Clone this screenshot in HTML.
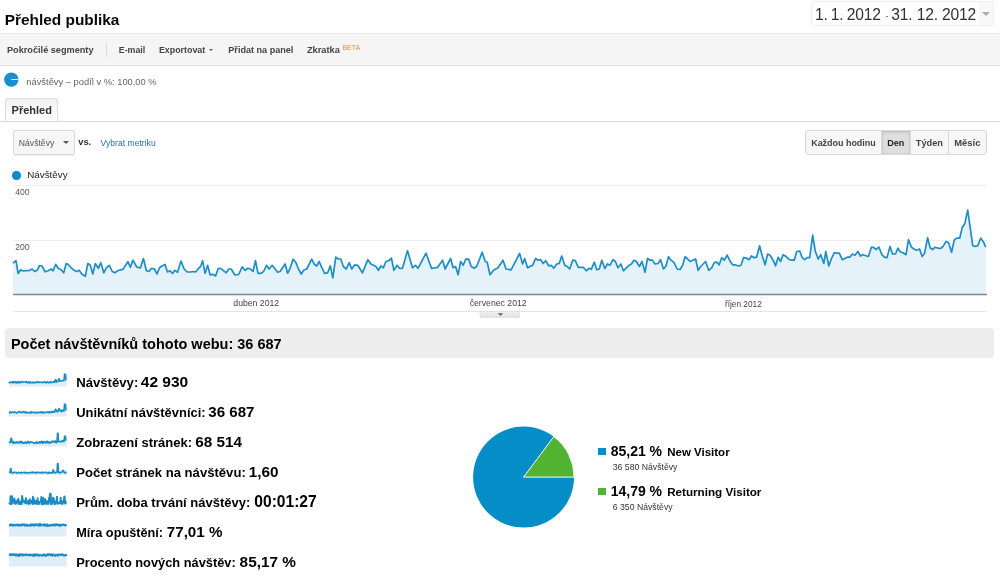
<!DOCTYPE html>
<html lang="cs"><head><meta charset="utf-8"><title>Přehled publika</title>
<style>
html,body{margin:0;padding:0;background:#fff;}
body{width:1000px;height:578px;position:relative;overflow:hidden;font-family:"Liberation Sans",sans-serif;color:#222;}
.abs{position:absolute;white-space:nowrap;}
.t{position:absolute;white-space:nowrap;line-height:20px;height:20px;}
#datebox{left:811px;top:1.300px;width:182.600px;height:24.300px;border:1px solid #efefef;border-radius:3px;background:linear-gradient(to right,#fff 0,#fff 167px,#f8f8f8 167px,#f8f8f8 100%);box-sizing:border-box;}
#datearrow{left:981.5px;top:12px;width:0;height:0;border-left:4.2px solid transparent;border-right:4.2px solid transparent;border-top:4.2px solid #aaa;}
#toolbar{left:0;top:33px;width:1000px;height:32.500px;background:#f5f5f5;border-top:1px solid #e6e6e6;border-bottom:1px solid #e3e3e3;box-sizing:border-box;}
#tbsep{left:106px;top:41.500px;width:1px;height:15.500px;background:#dcdcdc;}
#tab{left:4.600px;top:97.900px;width:53.400px;height:23.600px;border:1px solid #dcdcdc;border-bottom:none;border-radius:3px 3px 0 0;background:linear-gradient(#f1f1f1,#fff 85%);box-sizing:border-box;}
#tabline{left:0;top:120.500px;width:1000px;height:1px;background:#d9d9d9;}
#metricsel{left:12.500px;top:130px;width:62.400px;height:24.500px;border:1px solid #dadada;border-radius:2px;background:#f6f6f6;box-sizing:border-box;box-shadow:0 1px 1px rgba(0,0,0,.06);}
#metricarrow{left:63px;top:141px;width:0;height:0;border-left:3px solid transparent;border-right:3px solid transparent;border-top:3px solid #555;}
.btn{top:130px;height:24.600px;box-sizing:border-box;border:1px solid #d9d9d9;background:#f6f6f6;}
#legdot{left:12.400px;top:171px;width:8.600px;height:8.600px;border-radius:50%;background:#058dc7;}
#sechead{left:4.500px;top:328.400px;width:989.500px;height:29.500px;background:#ededed;border-radius:4px;}
.lsq{left:598.400px;width:7.300px;height:7.300px;}
svg{position:absolute;left:0;top:0;}
</style></head><body>
<div id="datebox" class="abs"></div>
<div id="datearrow" class="abs"></div>
<div id="toolbar" class="abs"></div>
<div id="tbsep" class="abs"></div>
<div class="abs" style="left:209px;top:48.800px;width:0;height:0;border-left:2.800px solid transparent;border-right:2.800px solid transparent;border-top:2.800px solid #555"></div>
<svg class="abs" style="left:4px;top:72px" width="15" height="15" viewBox="0 0 15 15"><circle cx="7.300" cy="7.600" r="7.200" fill="#1a8fd0"/><line x1="7.300" y1="7.500" x2="14.500" y2="7.500" stroke="#fff" stroke-width="1" opacity="0.85"/></svg>
<div id="tabline" class="abs"></div>
<div id="tab" class="abs"></div>
<div id="metricsel" class="abs"></div>
<div id="metricarrow" class="abs"></div>
<div class="abs btn" style="left:805.4px;width:77.0px;border-radius:3px 0 0 3px;"></div>
<div class="t" style="left:811.2px;top:132.90px;font-size:8.95px;font-weight:bold;color:#444;">Každou hodinu</div>
<div class="abs btn" style="left:881.4px;width:29.200000000000045px;background:#dedede;box-shadow:inset 0 1px 3px rgba(0,0,0,.18);"></div>
<div class="t" style="left:887.2px;top:132.88px;font-size:9.0px;font-weight:bold;color:#222;">Den</div>
<div class="abs btn" style="left:909.6px;width:39.799999999999955px;"></div>
<div class="t" style="left:915.8px;top:132.81px;font-size:9.2px;font-weight:bold;color:#444;">Týden</div>
<div class="abs btn" style="left:948.4px;width:39.0px;border-radius:0 3px 3px 0;"></div>
<div class="t" style="left:954.2px;top:132.73px;font-size:9.45px;font-weight:bold;color:#444;">Měsíc</div>

<div id="legdot" class="abs"></div>
<svg width="1000" height="578" viewBox="0 0 1000 578">
<defs><linearGradient id="hg" x1="0" y1="0" x2="0" y2="1"><stop offset="0" stop-color="#f1f1f1"/><stop offset="1" stop-color="#e2e2e2"/></linearGradient></defs>
<line x1="13" y1="185.500" x2="987" y2="185.500" stroke="#eeeeee" stroke-width="1"/>
<line x1="13" y1="240.500" x2="987" y2="240.500" stroke="#eeeeee" stroke-width="1"/>
<polygon points="13.0,294 13.0,263.2 16.0,260.7 18.1,273.5 20.6,269.8 22.6,271.0 29.6,270.3 32.1,269.0 34.6,271.5 37.1,270.3 39.6,265.5 42.1,266.0 45.1,271.8 48.1,270.8 51.2,269.0 53.2,270.8 55.7,264.3 58.2,268.3 60.7,269.5 63.7,272.8 66.2,263.5 68.2,264.5 71.2,267.8 74.2,270.3 76.7,271.5 79.2,270.3 81.7,274.0 85.3,276.3 87.8,263.5 90.3,265.3 92.8,274.0 95.3,263.5 98.3,268.3 100.8,262.7 103.8,272.8 106.3,267.8 109.3,265.3 112.3,271.5 114.8,272.8 117.9,270.8 120.4,269.8 122.9,269.3 127.9,261.7 130.4,267.3 132.9,260.2 136.7,267.0 140.4,267.8 143.4,258.5 146.4,270.8 148.9,271.5 151.5,268.3 154.5,269.0 157.0,274.0 159.5,267.8 162.0,266.0 165.0,264.5 167.5,272.0 170.0,270.8 172.5,273.3 175.0,270.3 177.5,272.3 181.0,261.0 184.1,269.0 187.1,272.0 190.6,272.0 193.1,271.5 195.6,272.0 198.6,268.3 200.6,266.5 202.6,260.7 205.1,273.3 207.6,265.3 210.1,274.8 213.1,274.3 215.6,276.0 218.2,268.5 220.7,268.3 223.2,270.3 226.2,272.8 228.7,269.0 231.2,269.0 234.7,274.8 238.7,274.5 242.2,266.8 245.0,270.3 248.0,268.3 250.5,269.0 253.0,271.5 255.5,260.7 258.0,273.3 261.0,273.3 263.6,271.5 266.6,265.3 269.1,269.0 272.1,265.3 274.6,268.3 277.6,272.3 280.1,271.5 285.1,264.0 287.6,273.3 290.1,268.3 293.1,259.2 295.7,262.2 298.2,268.3 301.2,274.0 304.2,269.8 306.7,269.0 311.7,259.2 314.2,264.0 316.7,266.0 319.2,261.5 321.7,267.3 324.7,273.3 327.7,272.8 330.3,265.8 332.8,277.8 335.8,257.2 338.3,259.0 340.8,259.0 343.3,266.5 346.3,269.0 349.3,262.7 351.8,269.0 354.8,264.8 357.8,265.3 362.4,272.8 367.9,259.7 370.9,264.0 375.9,266.5 378.4,270.3 380.9,266.0 383.4,267.8 385.9,261.5 388.9,260.7 391.4,258.2 393.9,270.3 397.0,265.3 399.5,268.3 402.5,268.3 407.5,250.7 412.5,267.8 415.5,265.3 418.0,268.3 426.0,253.2 431.6,268.5 437.6,267.3 442.6,260.2 445.1,269.0 450.6,258.5 453.1,267.8 455.6,266.5 458.1,274.8 460.6,261.5 463.2,265.3 465.7,259.2 468.7,259.0 471.2,266.5 474.2,268.3 476.7,266.5 482.2,252.2 485.2,261.5 487.2,262.2 490.0,274.8 493.5,270.3 498.0,267.8 503.0,260.2 506.0,269.0 511.1,269.8 519.6,253.5 522.6,264.0 524.6,258.5 527.6,267.8 532.6,265.3 535.6,258.5 538.1,260.2 540.7,259.7 543.2,263.5 545.7,260.7 548.7,265.8 551.2,265.3 553.7,268.3 556.7,264.0 559.2,263.5 561.7,256.0 564.7,265.3 567.2,266.5 569.7,269.0 572.7,260.2 575.3,260.7 578.3,267.3 583.3,267.3 586.3,270.8 588.8,268.3 591.3,269.3 594.3,262.2 596.8,269.8 599.3,269.0 601.8,260.2 604.8,268.5 607.4,264.0 609.9,265.3 612.9,259.7 615.4,261.5 617.9,267.8 620.9,264.0 623.4,270.8 628.9,265.3 631.4,264.0 633.9,260.2 636.4,261.5 639.4,266.5 642.0,261.5 645.0,272.3 647.5,258.5 650.0,260.2 652.5,260.2 655.0,264.0 658.0,263.5 660.5,259.7 663.5,269.0 666.0,266.0 668.5,256.7 671.0,260.2 674.1,262.7 677.1,269.0 680.1,269.5 682.6,265.3 685.1,256.7 687.6,259.0 690.1,261.5 695.6,259.0 698.1,270.3 700.6,266.5 705.6,261.5 708.7,270.3 711.7,267.8 714.2,262.7 716.7,262.2 719.2,264.8 721.7,257.7 724.2,260.2 727.2,255.2 730.2,261.5 732.7,264.8 735.0,264.8 738.5,266.0 741.0,265.3 743.5,257.7 746.5,258.2 749.0,259.7 751.5,256.0 754.1,257.7 756.6,257.2 759.6,245.9 762.1,255.2 765.1,264.8 767.6,254.0 770.1,255.2 773.1,260.2 775.6,265.8 778.1,257.2 780.6,261.5 783.1,254.7 786.2,256.5 788.7,259.2 791.2,260.2 794.2,260.2 796.7,251.5 799.7,251.0 802.2,257.7 804.7,259.7 807.2,257.7 809.7,257.7 812.7,235.2 815.2,251.0 818.2,259.0 820.8,254.7 823.8,263.5 825.8,251.5 828.8,266.0 831.3,259.0 834.3,252.7 836.8,253.2 839.3,253.2 842.3,259.7 844.8,258.5 847.3,257.2 849.8,257.2 852.4,254.0 854.9,255.2 857.9,251.5 860.4,256.0 862.9,254.7 865.9,255.7 868.4,256.5 871.4,247.2 873.9,247.7 876.4,249.5 878.9,247.0 881.9,254.7 884.4,257.2 887.0,257.7 890.0,246.4 892.5,254.0 895.5,254.0 898.0,248.2 900.5,252.0 903.0,252.7 906.0,254.7 908.5,239.7 911.5,247.2 914.0,249.0 916.5,250.2 919.6,249.0 922.1,256.5 924.6,253.2 927.6,237.7 930.1,247.7 932.6,249.5 935.1,247.2 938.1,248.2 940.6,248.5 943.1,246.4 946.1,241.4 948.6,242.7 951.6,252.2 954.2,240.2 956.7,238.2 959.7,238.2 962.2,227.6 964.7,223.9 967.7,210.1 970.2,227.6 972.7,245.7 975.2,246.4 977.7,245.7 980.7,238.2 983.2,241.4 985.8,247.2 985.8,294" fill="#e6f2fa"/>
<polyline points="13.0,263.2 16.0,260.7 18.1,273.5 20.6,269.8 22.6,271.0 29.6,270.3 32.1,269.0 34.6,271.5 37.1,270.3 39.6,265.5 42.1,266.0 45.1,271.8 48.1,270.8 51.2,269.0 53.2,270.8 55.7,264.3 58.2,268.3 60.7,269.5 63.7,272.8 66.2,263.5 68.2,264.5 71.2,267.8 74.2,270.3 76.7,271.5 79.2,270.3 81.7,274.0 85.3,276.3 87.8,263.5 90.3,265.3 92.8,274.0 95.3,263.5 98.3,268.3 100.8,262.7 103.8,272.8 106.3,267.8 109.3,265.3 112.3,271.5 114.8,272.8 117.9,270.8 120.4,269.8 122.9,269.3 127.9,261.7 130.4,267.3 132.9,260.2 136.7,267.0 140.4,267.8 143.4,258.5 146.4,270.8 148.9,271.5 151.5,268.3 154.5,269.0 157.0,274.0 159.5,267.8 162.0,266.0 165.0,264.5 167.5,272.0 170.0,270.8 172.5,273.3 175.0,270.3 177.5,272.3 181.0,261.0 184.1,269.0 187.1,272.0 190.6,272.0 193.1,271.5 195.6,272.0 198.6,268.3 200.6,266.5 202.6,260.7 205.1,273.3 207.6,265.3 210.1,274.8 213.1,274.3 215.6,276.0 218.2,268.5 220.7,268.3 223.2,270.3 226.2,272.8 228.7,269.0 231.2,269.0 234.7,274.8 238.7,274.5 242.2,266.8 245.0,270.3 248.0,268.3 250.5,269.0 253.0,271.5 255.5,260.7 258.0,273.3 261.0,273.3 263.6,271.5 266.6,265.3 269.1,269.0 272.1,265.3 274.6,268.3 277.6,272.3 280.1,271.5 285.1,264.0 287.6,273.3 290.1,268.3 293.1,259.2 295.7,262.2 298.2,268.3 301.2,274.0 304.2,269.8 306.7,269.0 311.7,259.2 314.2,264.0 316.7,266.0 319.2,261.5 321.7,267.3 324.7,273.3 327.7,272.8 330.3,265.8 332.8,277.8 335.8,257.2 338.3,259.0 340.8,259.0 343.3,266.5 346.3,269.0 349.3,262.7 351.8,269.0 354.8,264.8 357.8,265.3 362.4,272.8 367.9,259.7 370.9,264.0 375.9,266.5 378.4,270.3 380.9,266.0 383.4,267.8 385.9,261.5 388.9,260.7 391.4,258.2 393.9,270.3 397.0,265.3 399.5,268.3 402.5,268.3 407.5,250.7 412.5,267.8 415.5,265.3 418.0,268.3 426.0,253.2 431.6,268.5 437.6,267.3 442.6,260.2 445.1,269.0 450.6,258.5 453.1,267.8 455.6,266.5 458.1,274.8 460.6,261.5 463.2,265.3 465.7,259.2 468.7,259.0 471.2,266.5 474.2,268.3 476.7,266.5 482.2,252.2 485.2,261.5 487.2,262.2 490.0,274.8 493.5,270.3 498.0,267.8 503.0,260.2 506.0,269.0 511.1,269.8 519.6,253.5 522.6,264.0 524.6,258.5 527.6,267.8 532.6,265.3 535.6,258.5 538.1,260.2 540.7,259.7 543.2,263.5 545.7,260.7 548.7,265.8 551.2,265.3 553.7,268.3 556.7,264.0 559.2,263.5 561.7,256.0 564.7,265.3 567.2,266.5 569.7,269.0 572.7,260.2 575.3,260.7 578.3,267.3 583.3,267.3 586.3,270.8 588.8,268.3 591.3,269.3 594.3,262.2 596.8,269.8 599.3,269.0 601.8,260.2 604.8,268.5 607.4,264.0 609.9,265.3 612.9,259.7 615.4,261.5 617.9,267.8 620.9,264.0 623.4,270.8 628.9,265.3 631.4,264.0 633.9,260.2 636.4,261.5 639.4,266.5 642.0,261.5 645.0,272.3 647.5,258.5 650.0,260.2 652.5,260.2 655.0,264.0 658.0,263.5 660.5,259.7 663.5,269.0 666.0,266.0 668.5,256.7 671.0,260.2 674.1,262.7 677.1,269.0 680.1,269.5 682.6,265.3 685.1,256.7 687.6,259.0 690.1,261.5 695.6,259.0 698.1,270.3 700.6,266.5 705.6,261.5 708.7,270.3 711.7,267.8 714.2,262.7 716.7,262.2 719.2,264.8 721.7,257.7 724.2,260.2 727.2,255.2 730.2,261.5 732.7,264.8 735.0,264.8 738.5,266.0 741.0,265.3 743.5,257.7 746.5,258.2 749.0,259.7 751.5,256.0 754.1,257.7 756.6,257.2 759.6,245.9 762.1,255.2 765.1,264.8 767.6,254.0 770.1,255.2 773.1,260.2 775.6,265.8 778.1,257.2 780.6,261.5 783.1,254.7 786.2,256.5 788.7,259.2 791.2,260.2 794.2,260.2 796.7,251.5 799.7,251.0 802.2,257.7 804.7,259.7 807.2,257.7 809.7,257.7 812.7,235.2 815.2,251.0 818.2,259.0 820.8,254.7 823.8,263.5 825.8,251.5 828.8,266.0 831.3,259.0 834.3,252.7 836.8,253.2 839.3,253.2 842.3,259.7 844.8,258.5 847.3,257.2 849.8,257.2 852.4,254.0 854.9,255.2 857.9,251.5 860.4,256.0 862.9,254.7 865.9,255.7 868.4,256.5 871.4,247.2 873.9,247.7 876.4,249.5 878.9,247.0 881.9,254.7 884.4,257.2 887.0,257.7 890.0,246.4 892.5,254.0 895.5,254.0 898.0,248.2 900.5,252.0 903.0,252.7 906.0,254.7 908.5,239.7 911.5,247.2 914.0,249.0 916.5,250.2 919.6,249.0 922.1,256.5 924.6,253.2 927.6,237.7 930.1,247.7 932.6,249.5 935.1,247.2 938.1,248.2 940.6,248.5 943.1,246.4 946.1,241.4 948.6,242.7 951.6,252.2 954.2,240.2 956.7,238.2 959.7,238.2 962.2,227.6 964.7,223.9 967.7,210.1 970.2,227.6 972.7,245.7 975.2,246.4 977.7,245.7 980.7,238.2 983.2,241.4 985.8,247.2" fill="none" stroke="#1e8fc6" stroke-width="1.700" stroke-linejoin="round"/>
<line x1="13" y1="294.500" x2="987" y2="294.500" stroke="#7f898d" stroke-width="1.500"/>
<line x1="13" y1="311.500" x2="987" y2="311.500" stroke="#e4e4e4" stroke-width="1"/>
<path d="M480,311.500 H519.600 V316 Q519.600,317.500 518.100,317.500 H481.500 Q480,317.500 480,316 Z" fill="url(#hg)" stroke="#d8d8d8" stroke-width="0.600"/>
<path d="M497.800,313.200 h5.400 l-2.700,2.800 z" fill="#666"/>
<polygon points="9.0,386.5 9.0,381.8 9.5,382.8 10.0,382.7 10.5,382.0 11.0,382.3 11.5,382.2 12.0,382.5 12.5,382.7 13.0,381.7 13.5,381.6 14.0,382.8 14.5,382.2 15.0,382.7 15.5,381.6 16.0,382.2 16.5,382.6 17.0,381.9 17.5,382.9 18.0,382.9 18.5,381.6 19.0,381.6 19.5,382.4 20.0,382.9 20.5,382.1 21.0,381.9 21.5,382.2 22.0,381.6 22.5,381.9 23.0,382.2 23.5,382.3 24.0,381.9 24.5,381.9 25.0,381.9 25.5,382.2 26.0,382.0 26.5,381.6 27.0,382.8 27.5,382.4 28.0,382.5 28.5,381.9 29.0,383.0 29.5,382.8 30.0,381.8 30.5,382.1 31.0,382.6 31.5,382.6 32.0,382.9 32.5,382.2 33.0,382.8 33.5,382.5 34.0,382.0 34.5,382.4 35.0,382.8 35.5,382.8 36.0,382.3 36.5,382.4 37.0,381.6 37.5,381.9 38.0,382.7 38.5,382.2 39.0,381.8 39.5,382.4 40.0,382.6 40.5,382.5 41.0,382.1 41.5,382.2 42.0,382.3 42.5,382.7 43.0,382.3 43.5,382.2 44.0,382.3 44.5,381.6 45.0,381.7 45.5,382.6 46.0,382.9 46.5,382.4 47.0,382.1 47.5,381.8 48.0,382.2 48.5,382.9 49.0,382.6 49.5,382.2 50.0,382.6 50.5,381.7 51.0,382.1 51.5,382.7 52.0,382.1 52.5,381.9 53.0,381.6 53.5,381.9 54.0,382.5 54.5,381.1 55.0,382.1 55.5,379.6 56.0,379.7 56.5,381.9 57.0,382.0 57.5,381.5 58.0,381.5 58.5,379.2 59.0,378.7 59.5,379.7 60.0,381.2 60.5,380.7 61.0,381.0 61.5,380.9 62.0,380.7 62.5,380.6 63.0,380.7 63.5,380.8 64.0,380.7 64.5,374.3 65.0,374.3 65.5,374.3 66.0,379.7 66.5,380.2 66.5,386.5" fill="#deedf7"/><polyline points="9.0,381.8 9.5,382.8 10.0,382.7 10.5,382.0 11.0,382.3 11.5,382.2 12.0,382.5 12.5,382.7 13.0,381.7 13.5,381.6 14.0,382.8 14.5,382.2 15.0,382.7 15.5,381.6 16.0,382.2 16.5,382.6 17.0,381.9 17.5,382.9 18.0,382.9 18.5,381.6 19.0,381.6 19.5,382.4 20.0,382.9 20.5,382.1 21.0,381.9 21.5,382.2 22.0,381.6 22.5,381.9 23.0,382.2 23.5,382.3 24.0,381.9 24.5,381.9 25.0,381.9 25.5,382.2 26.0,382.0 26.5,381.6 27.0,382.8 27.5,382.4 28.0,382.5 28.5,381.9 29.0,383.0 29.5,382.8 30.0,381.8 30.5,382.1 31.0,382.6 31.5,382.6 32.0,382.9 32.5,382.2 33.0,382.8 33.5,382.5 34.0,382.0 34.5,382.4 35.0,382.8 35.5,382.8 36.0,382.3 36.5,382.4 37.0,381.6 37.5,381.9 38.0,382.7 38.5,382.2 39.0,381.8 39.5,382.4 40.0,382.6 40.5,382.5 41.0,382.1 41.5,382.2 42.0,382.3 42.5,382.7 43.0,382.3 43.5,382.2 44.0,382.3 44.5,381.6 45.0,381.7 45.5,382.6 46.0,382.9 46.5,382.4 47.0,382.1 47.5,381.8 48.0,382.2 48.5,382.9 49.0,382.6 49.5,382.2 50.0,382.6 50.5,381.7 51.0,382.1 51.5,382.7 52.0,382.1 52.5,381.9 53.0,381.6 53.5,381.9 54.0,382.5 54.5,381.1 55.0,382.1 55.5,379.6 56.0,379.7 56.5,381.9 57.0,382.0 57.5,381.5 58.0,381.5 58.5,379.2 59.0,378.7 59.5,379.7 60.0,381.2 60.5,380.7 61.0,381.0 61.5,380.9 62.0,380.7 62.5,380.6 63.0,380.7 63.5,380.8 64.0,380.7 64.5,374.3 65.0,374.3 65.5,374.3 66.0,379.7 66.5,380.2" fill="none" stroke="#1a8bc3" stroke-width="1.55" stroke-linejoin="round"/>
<polygon points="9.0,416.5 9.0,412.9 9.5,412.9 10.0,411.7 10.5,411.7 11.0,412.8 11.5,412.6 12.0,412.5 12.5,412.0 13.0,412.4 13.5,412.4 14.0,412.4 14.5,411.8 15.0,412.2 15.5,412.2 16.0,412.6 16.5,413.0 17.0,412.9 17.5,412.4 18.0,412.2 18.5,412.0 19.0,411.7 19.5,411.6 20.0,412.3 20.5,412.0 21.0,412.1 21.5,412.8 22.0,412.3 22.5,412.4 23.0,411.9 23.5,411.6 24.0,412.1 24.5,411.8 25.0,412.3 25.5,413.0 26.0,412.5 26.5,411.9 27.0,412.9 27.5,412.7 28.0,412.6 28.5,412.9 29.0,412.7 29.5,412.7 30.0,412.1 30.5,413.0 31.0,412.9 31.5,411.8 32.0,412.7 32.5,412.6 33.0,412.2 33.5,412.3 34.0,412.3 34.5,412.9 35.0,412.3 35.5,412.8 36.0,412.1 36.5,412.8 37.0,412.9 37.5,412.2 38.0,412.4 38.5,412.9 39.0,412.6 39.5,412.3 40.0,411.9 40.5,412.1 41.0,412.6 41.5,411.8 42.0,412.9 42.5,412.0 43.0,412.9 43.5,412.0 44.0,412.9 44.5,412.6 45.0,412.3 45.5,412.3 46.0,412.5 46.5,412.4 47.0,412.0 47.5,411.8 48.0,412.2 48.5,412.8 49.0,412.3 49.5,411.6 50.0,412.6 50.5,412.4 51.0,412.6 51.5,411.6 52.0,412.3 52.5,411.3 53.0,412.1 53.5,411.6 54.0,411.5 54.5,412.3 55.0,411.2 55.5,409.2 56.0,409.6 56.5,411.2 57.0,411.1 57.5,412.0 58.0,411.3 58.5,409.7 59.0,408.6 59.5,409.0 60.0,410.7 60.5,411.3 61.0,410.4 61.5,411.6 62.0,410.2 62.5,411.1 63.0,410.0 63.5,410.3 64.0,411.0 64.5,404.3 65.0,404.3 65.5,404.3 66.0,410.0 66.5,409.4 66.5,416.5" fill="#deedf7"/><polyline points="9.0,412.9 9.5,412.9 10.0,411.7 10.5,411.7 11.0,412.8 11.5,412.6 12.0,412.5 12.5,412.0 13.0,412.4 13.5,412.4 14.0,412.4 14.5,411.8 15.0,412.2 15.5,412.2 16.0,412.6 16.5,413.0 17.0,412.9 17.5,412.4 18.0,412.2 18.5,412.0 19.0,411.7 19.5,411.6 20.0,412.3 20.5,412.0 21.0,412.1 21.5,412.8 22.0,412.3 22.5,412.4 23.0,411.9 23.5,411.6 24.0,412.1 24.5,411.8 25.0,412.3 25.5,413.0 26.0,412.5 26.5,411.9 27.0,412.9 27.5,412.7 28.0,412.6 28.5,412.9 29.0,412.7 29.5,412.7 30.0,412.1 30.5,413.0 31.0,412.9 31.5,411.8 32.0,412.7 32.5,412.6 33.0,412.2 33.5,412.3 34.0,412.3 34.5,412.9 35.0,412.3 35.5,412.8 36.0,412.1 36.5,412.8 37.0,412.9 37.5,412.2 38.0,412.4 38.5,412.9 39.0,412.6 39.5,412.3 40.0,411.9 40.5,412.1 41.0,412.6 41.5,411.8 42.0,412.9 42.5,412.0 43.0,412.9 43.5,412.0 44.0,412.9 44.5,412.6 45.0,412.3 45.5,412.3 46.0,412.5 46.5,412.4 47.0,412.0 47.5,411.8 48.0,412.2 48.5,412.8 49.0,412.3 49.5,411.6 50.0,412.6 50.5,412.4 51.0,412.6 51.5,411.6 52.0,412.3 52.5,411.3 53.0,412.1 53.5,411.6 54.0,411.5 54.5,412.3 55.0,411.2 55.5,409.2 56.0,409.6 56.5,411.2 57.0,411.1 57.5,412.0 58.0,411.3 58.5,409.7 59.0,408.6 59.5,409.0 60.0,410.7 60.5,411.3 61.0,410.4 61.5,411.6 62.0,410.2 62.5,411.1 63.0,410.0 63.5,410.3 64.0,411.0 64.5,404.3 65.0,404.3 65.5,404.3 66.0,410.0 66.5,409.4" fill="none" stroke="#1a8bc3" stroke-width="1.55" stroke-linejoin="round"/>
<polygon points="9.0,446.5 9.0,441.8 9.5,442.4 10.0,442.0 10.5,442.5 11.0,438.3 11.5,438.3 12.0,441.3 12.5,443.0 13.0,441.8 13.5,441.8 14.0,443.3 14.5,442.2 15.0,443.0 15.5,442.3 16.0,442.6 16.5,441.6 17.0,442.6 17.5,443.0 18.0,442.3 18.5,442.8 19.0,442.6 19.5,441.4 20.0,442.8 20.5,442.5 21.0,441.9 21.5,441.4 22.0,443.0 22.5,442.2 23.0,442.7 23.5,443.1 24.0,442.7 24.5,443.1 25.0,442.1 25.5,442.9 26.0,442.2 26.5,443.2 27.0,443.1 27.5,441.5 28.0,441.6 28.5,441.7 29.0,443.2 29.5,442.2 30.0,442.6 30.5,441.9 31.0,442.3 31.5,442.1 32.0,442.0 32.5,442.5 33.0,442.5 33.5,443.1 34.0,442.7 34.5,443.2 35.0,443.0 35.5,443.3 36.0,442.6 36.5,441.6 37.0,443.0 37.5,443.2 38.0,443.1 38.5,442.4 39.0,442.7 39.5,441.7 40.0,443.0 40.5,442.4 41.0,441.9 41.5,441.4 42.0,443.0 42.5,443.3 43.0,441.5 43.5,442.9 44.0,442.1 44.5,441.6 45.0,441.9 45.5,442.8 46.0,443.0 46.5,441.4 47.0,442.5 47.5,441.3 48.0,442.7 48.5,441.9 49.0,443.0 49.5,443.1 50.0,442.2 50.5,443.1 51.0,441.7 51.5,441.2 52.0,442.2 52.5,441.1 53.0,441.4 53.5,441.8 54.0,442.1 54.5,441.2 55.0,440.9 55.5,442.5 56.0,441.4 56.5,442.6 57.0,442.4 57.5,433.3 58.0,433.3 58.5,441.5 59.0,441.7 59.5,441.6 60.0,441.4 60.5,441.5 61.0,442.1 61.5,441.1 62.0,440.9 62.5,441.4 63.0,440.4 63.5,440.5 64.0,441.7 64.5,436.3 65.0,436.3 65.5,436.3 66.0,440.3 66.5,440.5 66.5,446.5" fill="#deedf7"/><polyline points="9.0,441.8 9.5,442.4 10.0,442.0 10.5,442.5 11.0,438.3 11.5,438.3 12.0,441.3 12.5,443.0 13.0,441.8 13.5,441.8 14.0,443.3 14.5,442.2 15.0,443.0 15.5,442.3 16.0,442.6 16.5,441.6 17.0,442.6 17.5,443.0 18.0,442.3 18.5,442.8 19.0,442.6 19.5,441.4 20.0,442.8 20.5,442.5 21.0,441.9 21.5,441.4 22.0,443.0 22.5,442.2 23.0,442.7 23.5,443.1 24.0,442.7 24.5,443.1 25.0,442.1 25.5,442.9 26.0,442.2 26.5,443.2 27.0,443.1 27.5,441.5 28.0,441.6 28.5,441.7 29.0,443.2 29.5,442.2 30.0,442.6 30.5,441.9 31.0,442.3 31.5,442.1 32.0,442.0 32.5,442.5 33.0,442.5 33.5,443.1 34.0,442.7 34.5,443.2 35.0,443.0 35.5,443.3 36.0,442.6 36.5,441.6 37.0,443.0 37.5,443.2 38.0,443.1 38.5,442.4 39.0,442.7 39.5,441.7 40.0,443.0 40.5,442.4 41.0,441.9 41.5,441.4 42.0,443.0 42.5,443.3 43.0,441.5 43.5,442.9 44.0,442.1 44.5,441.6 45.0,441.9 45.5,442.8 46.0,443.0 46.5,441.4 47.0,442.5 47.5,441.3 48.0,442.7 48.5,441.9 49.0,443.0 49.5,443.1 50.0,442.2 50.5,443.1 51.0,441.7 51.5,441.2 52.0,442.2 52.5,441.1 53.0,441.4 53.5,441.8 54.0,442.1 54.5,441.2 55.0,440.9 55.5,442.5 56.0,441.4 56.5,442.6 57.0,442.4 57.5,433.3 58.0,433.3 58.5,441.5 59.0,441.7 59.5,441.6 60.0,441.4 60.5,441.5 61.0,442.1 61.5,441.1 62.0,440.9 62.5,441.4 63.0,440.4 63.5,440.5 64.0,441.7 64.5,436.3 65.0,436.3 65.5,436.3 66.0,440.3 66.5,440.5" fill="none" stroke="#1a8bc3" stroke-width="1.55" stroke-linejoin="round"/>
<polygon points="9.0,475.0 9.0,472.3 9.5,472.2 10.0,472.5 10.5,468.6 11.0,468.6 11.5,472.5 12.0,473.0 12.5,472.9 13.0,472.9 13.5,472.3 14.0,472.6 14.5,472.4 15.0,472.3 15.5,472.2 16.0,472.3 16.5,473.0 17.0,472.9 17.5,472.9 18.0,472.9 18.5,472.3 19.0,472.4 19.5,472.7 20.0,472.8 20.5,473.0 21.0,473.0 21.5,472.2 22.0,472.7 22.5,472.8 23.0,472.6 23.5,472.3 24.0,472.6 24.5,472.2 25.0,473.0 25.5,473.0 26.0,472.6 26.5,472.4 27.0,473.0 27.5,472.7 28.0,473.0 28.5,472.9 29.0,472.6 29.5,472.5 30.0,472.7 30.5,472.5 31.0,472.3 31.5,472.4 32.0,472.9 32.5,472.1 33.0,472.1 33.5,472.7 34.0,472.4 34.5,472.6 35.0,472.6 35.5,472.4 36.0,473.1 36.5,472.3 37.0,472.5 37.5,472.3 38.0,472.7 38.5,472.4 39.0,472.5 39.5,472.8 40.0,472.4 40.5,472.7 41.0,473.0 41.5,472.2 42.0,472.2 42.5,472.3 43.0,472.9 43.5,472.7 44.0,472.3 44.5,472.4 45.0,472.3 45.5,472.6 46.0,472.1 46.5,472.8 47.0,473.0 47.5,473.1 48.0,472.8 48.5,473.1 49.0,472.1 49.5,472.4 50.0,473.1 50.5,472.9 51.0,472.5 51.5,473.0 52.0,472.7 52.5,472.9 53.0,470.1 53.5,470.1 54.0,472.5 54.5,472.2 55.0,472.5 55.5,473.1 56.0,472.4 56.5,472.1 57.0,472.1 57.5,463.6 58.0,463.6 58.5,472.5 59.0,472.4 59.5,472.2 60.0,473.1 60.5,472.5 61.0,472.3 61.5,472.2 62.0,472.2 62.5,470.6 63.0,470.6 63.5,470.6 64.0,472.1 64.5,472.6 65.0,472.3 65.5,473.1 66.0,472.2 66.5,472.6 66.5,475.0" fill="#deedf7"/><polyline points="9.0,472.3 9.5,472.2 10.0,472.5 10.5,468.6 11.0,468.6 11.5,472.5 12.0,473.0 12.5,472.9 13.0,472.9 13.5,472.3 14.0,472.6 14.5,472.4 15.0,472.3 15.5,472.2 16.0,472.3 16.5,473.0 17.0,472.9 17.5,472.9 18.0,472.9 18.5,472.3 19.0,472.4 19.5,472.7 20.0,472.8 20.5,473.0 21.0,473.0 21.5,472.2 22.0,472.7 22.5,472.8 23.0,472.6 23.5,472.3 24.0,472.6 24.5,472.2 25.0,473.0 25.5,473.0 26.0,472.6 26.5,472.4 27.0,473.0 27.5,472.7 28.0,473.0 28.5,472.9 29.0,472.6 29.5,472.5 30.0,472.7 30.5,472.5 31.0,472.3 31.5,472.4 32.0,472.9 32.5,472.1 33.0,472.1 33.5,472.7 34.0,472.4 34.5,472.6 35.0,472.6 35.5,472.4 36.0,473.1 36.5,472.3 37.0,472.5 37.5,472.3 38.0,472.7 38.5,472.4 39.0,472.5 39.5,472.8 40.0,472.4 40.5,472.7 41.0,473.0 41.5,472.2 42.0,472.2 42.5,472.3 43.0,472.9 43.5,472.7 44.0,472.3 44.5,472.4 45.0,472.3 45.5,472.6 46.0,472.1 46.5,472.8 47.0,473.0 47.5,473.1 48.0,472.8 48.5,473.1 49.0,472.1 49.5,472.4 50.0,473.1 50.5,472.9 51.0,472.5 51.5,473.0 52.0,472.7 52.5,472.9 53.0,470.1 53.5,470.1 54.0,472.5 54.5,472.2 55.0,472.5 55.5,473.1 56.0,472.4 56.5,472.1 57.0,472.1 57.5,463.6 58.0,463.6 58.5,472.5 59.0,472.4 59.5,472.2 60.0,473.1 60.5,472.5 61.0,472.3 61.5,472.2 62.0,472.2 62.5,470.6 63.0,470.6 63.5,470.6 64.0,472.1 64.5,472.6 65.0,472.3 65.5,473.1 66.0,472.2 66.5,472.6" fill="none" stroke="#1a8bc3" stroke-width="1.55" stroke-linejoin="round"/>
<polygon points="9.0,505.5 9.0,502.8 9.4,503.3 9.8,503.5 10.2,504.0 10.5,496.1 10.9,500.7 11.3,502.3 11.7,504.0 12.1,496.1 12.5,501.0 12.9,502.3 13.2,501.5 13.6,502.6 14.0,502.7 14.4,498.5 14.8,501.6 15.2,503.9 15.6,503.4 15.9,501.2 16.3,503.5 16.7,501.1 17.1,502.8 17.5,501.1 17.9,500.6 18.3,498.6 18.6,501.4 19.0,504.1 19.4,503.7 19.8,501.6 20.2,504.1 20.6,502.5 21.0,503.0 21.3,501.3 21.7,504.0 22.1,495.9 22.5,498.3 22.9,501.9 23.3,501.2 23.7,501.1 24.1,500.8 24.4,501.7 24.8,502.8 25.2,500.6 25.6,503.0 26.0,498.2 26.4,503.5 26.8,502.3 27.1,501.7 27.5,502.3 27.9,503.1 28.3,500.8 28.7,504.1 29.1,500.7 29.5,503.3 29.8,499.2 30.2,503.4 30.6,501.9 31.0,502.7 31.4,500.6 31.8,500.8 32.2,501.3 32.5,504.0 32.9,496.7 33.3,503.9 33.7,498.1 34.1,501.9 34.5,502.5 34.9,503.4 35.2,501.0 35.6,503.3 36.0,503.5 36.4,503.7 36.8,500.7 37.2,504.0 37.6,498.1 37.9,502.8 38.3,503.9 38.7,501.8 39.1,503.9 39.5,502.6 39.9,501.7 40.3,501.7 40.6,501.2 41.0,500.9 41.4,496.9 41.8,504.2 42.2,501.2 42.6,500.8 43.0,504.2 43.3,497.9 43.7,501.5 44.1,502.7 44.5,503.6 44.9,502.2 45.3,499.1 45.7,503.9 46.0,500.7 46.4,502.4 46.8,503.6 47.2,501.1 47.6,503.2 48.0,504.0 48.4,502.9 48.7,503.4 49.1,497.8 49.5,501.1 49.9,493.8 50.3,493.8 50.7,493.8 51.1,504.2 51.4,503.7 51.8,504.1 52.2,502.2 52.6,502.4 53.0,497.6 53.4,501.6 53.8,498.8 54.2,502.0 54.5,504.2 54.9,504.1 55.3,502.9 55.7,502.4 56.1,501.8 56.5,500.9 56.9,496.6 57.2,503.7 57.6,501.9 58.0,503.4 58.4,503.4 58.8,503.1 59.2,503.0 59.6,503.3 59.9,501.9 60.3,503.1 60.7,497.6 61.1,503.4 61.5,503.1 61.9,501.7 62.3,504.0 62.6,502.9 63.0,502.7 63.4,500.6 63.8,502.6 64.2,496.9 64.6,496.4 65.0,502.9 65.3,503.5 65.7,501.9 66.1,502.9 66.5,503.3 66.5,505.5" fill="#deedf7"/><polyline points="9.0,502.8 9.4,503.3 9.8,503.5 10.2,504.0 10.5,496.1 10.9,500.7 11.3,502.3 11.7,504.0 12.1,496.1 12.5,501.0 12.9,502.3 13.2,501.5 13.6,502.6 14.0,502.7 14.4,498.5 14.8,501.6 15.2,503.9 15.6,503.4 15.9,501.2 16.3,503.5 16.7,501.1 17.1,502.8 17.5,501.1 17.9,500.6 18.3,498.6 18.6,501.4 19.0,504.1 19.4,503.7 19.8,501.6 20.2,504.1 20.6,502.5 21.0,503.0 21.3,501.3 21.7,504.0 22.1,495.9 22.5,498.3 22.9,501.9 23.3,501.2 23.7,501.1 24.1,500.8 24.4,501.7 24.8,502.8 25.2,500.6 25.6,503.0 26.0,498.2 26.4,503.5 26.8,502.3 27.1,501.7 27.5,502.3 27.9,503.1 28.3,500.8 28.7,504.1 29.1,500.7 29.5,503.3 29.8,499.2 30.2,503.4 30.6,501.9 31.0,502.7 31.4,500.6 31.8,500.8 32.2,501.3 32.5,504.0 32.9,496.7 33.3,503.9 33.7,498.1 34.1,501.9 34.5,502.5 34.9,503.4 35.2,501.0 35.6,503.3 36.0,503.5 36.4,503.7 36.8,500.7 37.2,504.0 37.6,498.1 37.9,502.8 38.3,503.9 38.7,501.8 39.1,503.9 39.5,502.6 39.9,501.7 40.3,501.7 40.6,501.2 41.0,500.9 41.4,496.9 41.8,504.2 42.2,501.2 42.6,500.8 43.0,504.2 43.3,497.9 43.7,501.5 44.1,502.7 44.5,503.6 44.9,502.2 45.3,499.1 45.7,503.9 46.0,500.7 46.4,502.4 46.8,503.6 47.2,501.1 47.6,503.2 48.0,504.0 48.4,502.9 48.7,503.4 49.1,497.8 49.5,501.1 49.9,493.8 50.3,493.8 50.7,493.8 51.1,504.2 51.4,503.7 51.8,504.1 52.2,502.2 52.6,502.4 53.0,497.6 53.4,501.6 53.8,498.8 54.2,502.0 54.5,504.2 54.9,504.1 55.3,502.9 55.7,502.4 56.1,501.8 56.5,500.9 56.9,496.6 57.2,503.7 57.6,501.9 58.0,503.4 58.4,503.4 58.8,503.1 59.2,503.0 59.6,503.3 59.9,501.9 60.3,503.1 60.7,497.6 61.1,503.4 61.5,503.1 61.9,501.7 62.3,504.0 62.6,502.9 63.0,502.7 63.4,500.6 63.8,502.6 64.2,496.9 64.6,496.4 65.0,502.9 65.3,503.5 65.7,501.9 66.1,502.9 66.5,503.3" fill="none" stroke="#1a8bc3" stroke-width="1.9" stroke-linejoin="round"/>
<polygon points="9.0,536.5 9.0,525.5 9.5,525.6 10.0,525.0 10.5,524.6 11.0,524.1 11.5,525.3 12.0,524.9 12.5,525.5 13.0,524.8 13.5,525.5 14.0,524.6 14.5,525.5 15.0,525.4 15.5,524.8 16.0,525.1 16.5,525.3 17.0,524.4 17.5,525.1 18.0,525.5 18.5,524.6 19.0,525.5 19.5,525.3 20.0,525.6 20.5,524.7 21.0,524.3 21.5,525.5 22.0,525.5 22.5,524.9 23.0,524.3 23.5,524.5 24.0,525.2 24.5,524.6 25.0,525.8 25.5,525.2 26.0,524.5 26.5,525.3 27.0,524.7 27.5,525.8 28.0,525.7 28.5,525.0 29.0,525.3 29.5,525.4 30.0,525.5 30.5,525.9 31.0,524.2 31.5,524.8 32.0,525.2 32.5,524.6 33.0,525.2 33.5,524.3 34.0,525.7 34.5,525.0 35.0,524.3 35.5,525.3 36.0,524.7 36.5,524.5 37.0,525.0 37.5,524.3 38.0,524.5 38.5,525.7 39.0,525.4 39.5,524.1 40.0,525.5 40.5,524.1 41.0,524.7 41.5,525.7 42.0,525.2 42.5,524.7 43.0,524.8 43.5,524.8 44.0,524.3 44.5,525.9 45.0,524.2 45.5,524.9 46.0,525.4 46.5,524.8 47.0,525.9 47.5,524.5 48.0,525.9 48.5,525.7 49.0,525.3 49.5,525.7 50.0,524.9 50.5,525.6 51.0,525.5 51.5,525.0 52.0,524.9 52.5,525.4 53.0,524.8 53.5,524.3 54.0,525.4 54.5,524.6 55.0,525.0 55.5,525.5 56.0,524.4 56.5,524.1 57.0,524.3 57.5,525.2 58.0,524.7 58.5,524.6 59.0,524.9 59.5,525.8 60.0,524.6 60.5,524.8 61.0,525.7 61.5,525.2 62.0,524.6 62.5,525.0 63.0,525.0 63.5,524.4 64.0,524.8 64.5,524.7 65.0,525.5 65.5,524.7 66.0,525.3 66.5,525.8 66.5,536.5" fill="#deedf7"/><polyline points="9.0,525.5 9.5,525.6 10.0,525.0 10.5,524.6 11.0,524.1 11.5,525.3 12.0,524.9 12.5,525.5 13.0,524.8 13.5,525.5 14.0,524.6 14.5,525.5 15.0,525.4 15.5,524.8 16.0,525.1 16.5,525.3 17.0,524.4 17.5,525.1 18.0,525.5 18.5,524.6 19.0,525.5 19.5,525.3 20.0,525.6 20.5,524.7 21.0,524.3 21.5,525.5 22.0,525.5 22.5,524.9 23.0,524.3 23.5,524.5 24.0,525.2 24.5,524.6 25.0,525.8 25.5,525.2 26.0,524.5 26.5,525.3 27.0,524.7 27.5,525.8 28.0,525.7 28.5,525.0 29.0,525.3 29.5,525.4 30.0,525.5 30.5,525.9 31.0,524.2 31.5,524.8 32.0,525.2 32.5,524.6 33.0,525.2 33.5,524.3 34.0,525.7 34.5,525.0 35.0,524.3 35.5,525.3 36.0,524.7 36.5,524.5 37.0,525.0 37.5,524.3 38.0,524.5 38.5,525.7 39.0,525.4 39.5,524.1 40.0,525.5 40.5,524.1 41.0,524.7 41.5,525.7 42.0,525.2 42.5,524.7 43.0,524.8 43.5,524.8 44.0,524.3 44.5,525.9 45.0,524.2 45.5,524.9 46.0,525.4 46.5,524.8 47.0,525.9 47.5,524.5 48.0,525.9 48.5,525.7 49.0,525.3 49.5,525.7 50.0,524.9 50.5,525.6 51.0,525.5 51.5,525.0 52.0,524.9 52.5,525.4 53.0,524.8 53.5,524.3 54.0,525.4 54.5,524.6 55.0,525.0 55.5,525.5 56.0,524.4 56.5,524.1 57.0,524.3 57.5,525.2 58.0,524.7 58.5,524.6 59.0,524.9 59.5,525.8 60.0,524.6 60.5,524.8 61.0,525.7 61.5,525.2 62.0,524.6 62.5,525.0 63.0,525.0 63.5,524.4 64.0,524.8 64.5,524.7 65.0,525.5 65.5,524.7 66.0,525.3 66.5,525.8" fill="none" stroke="#1a8bc3" stroke-width="1.9" stroke-linejoin="round"/>
<polygon points="9.0,566.5 9.0,554.7 9.5,554.4 10.0,555.3 10.5,554.2 11.0,555.1 11.5,554.8 12.0,554.2 12.5,555.0 13.0,554.2 13.5,554.9 14.0,554.2 14.5,554.3 15.0,554.9 15.5,555.6 16.0,554.3 16.5,554.5 17.0,555.2 17.5,555.8 18.0,555.1 18.5,554.8 19.0,555.9 19.5,554.2 20.0,555.6 20.5,554.6 21.0,554.4 21.5,554.3 22.0,554.7 22.5,555.6 23.0,554.4 23.5,555.1 24.0,555.3 24.5,554.8 25.0,555.1 25.5,554.2 26.0,554.2 26.5,554.5 27.0,555.3 27.5,554.9 28.0,554.7 28.5,555.2 29.0,554.9 29.5,554.6 30.0,555.5 30.5,555.4 31.0,554.5 31.5,555.1 32.0,555.0 32.5,555.7 33.0,555.4 33.5,554.6 34.0,555.9 34.5,554.3 35.0,554.9 35.5,555.5 36.0,554.4 36.5,555.0 37.0,554.2 37.5,555.3 38.0,555.5 38.5,555.1 39.0,555.7 39.5,554.7 40.0,555.4 40.5,555.2 41.0,555.1 41.5,554.9 42.0,555.6 42.5,555.8 43.0,555.0 43.5,555.3 44.0,554.2 44.5,555.4 45.0,555.3 45.5,555.9 46.0,555.6 46.5,554.6 47.0,554.8 47.5,555.3 48.0,554.1 48.5,554.9 49.0,554.4 49.5,554.3 50.0,554.2 50.5,555.5 51.0,554.3 51.5,554.5 52.0,554.8 52.5,555.7 53.0,554.2 53.5,554.9 54.0,555.1 54.5,555.7 55.0,555.6 55.5,555.7 56.0,554.6 56.5,554.8 57.0,554.7 57.5,555.7 58.0,555.8 58.5,554.4 59.0,554.4 59.5,554.5 60.0,554.5 60.5,555.0 61.0,555.2 61.5,554.6 62.0,554.1 62.5,554.9 63.0,554.8 63.5,555.1 64.0,555.8 64.5,555.3 65.0,555.0 65.5,555.2 66.0,555.3 66.5,554.2 66.5,566.5" fill="#deedf7"/><polyline points="9.0,554.7 9.5,554.4 10.0,555.3 10.5,554.2 11.0,555.1 11.5,554.8 12.0,554.2 12.5,555.0 13.0,554.2 13.5,554.9 14.0,554.2 14.5,554.3 15.0,554.9 15.5,555.6 16.0,554.3 16.5,554.5 17.0,555.2 17.5,555.8 18.0,555.1 18.5,554.8 19.0,555.9 19.5,554.2 20.0,555.6 20.5,554.6 21.0,554.4 21.5,554.3 22.0,554.7 22.5,555.6 23.0,554.4 23.5,555.1 24.0,555.3 24.5,554.8 25.0,555.1 25.5,554.2 26.0,554.2 26.5,554.5 27.0,555.3 27.5,554.9 28.0,554.7 28.5,555.2 29.0,554.9 29.5,554.6 30.0,555.5 30.5,555.4 31.0,554.5 31.5,555.1 32.0,555.0 32.5,555.7 33.0,555.4 33.5,554.6 34.0,555.9 34.5,554.3 35.0,554.9 35.5,555.5 36.0,554.4 36.5,555.0 37.0,554.2 37.5,555.3 38.0,555.5 38.5,555.1 39.0,555.7 39.5,554.7 40.0,555.4 40.5,555.2 41.0,555.1 41.5,554.9 42.0,555.6 42.5,555.8 43.0,555.0 43.5,555.3 44.0,554.2 44.5,555.4 45.0,555.3 45.5,555.9 46.0,555.6 46.5,554.6 47.0,554.8 47.5,555.3 48.0,554.1 48.5,554.9 49.0,554.4 49.5,554.3 50.0,554.2 50.5,555.5 51.0,554.3 51.5,554.5 52.0,554.8 52.5,555.7 53.0,554.2 53.5,554.9 54.0,555.1 54.5,555.7 55.0,555.6 55.5,555.7 56.0,554.6 56.5,554.8 57.0,554.7 57.5,555.7 58.0,555.8 58.5,554.4 59.0,554.4 59.5,554.5 60.0,554.5 60.5,555.0 61.0,555.2 61.5,554.6 62.0,554.1 62.5,554.9 63.0,554.8 63.5,555.1 64.0,555.8 64.5,555.3 65.0,555.0 65.5,555.2 66.0,555.3 66.5,554.2" fill="none" stroke="#1a8bc3" stroke-width="1.9" stroke-linejoin="round"/>

<circle cx="523.6" cy="477.1" r="50.5" fill="#058dc7"/>
<path d="M523.6,477.1 L574.1,477.1 A50.5,50.5 0 0 0 553.82,436.64 Z" fill="#50b432" stroke="#fff" stroke-width="1" stroke-linejoin="round"/>

</svg>
<div id="sechead" class="abs"></div>
<div class="t" style="left:4.8px;top:9.76px;font-size:15.4px;font-weight:bold;color:#080808;">Přehled publika</div>
<div class="t" style="left:814.9px;top:4.69px;font-size:15.6px;color:#2c3338;word-spacing:-0.9px;letter-spacing:-0.17px;">1. 1. 2012</div>
<div class="t" style="left:885.4px;top:5.58px;font-size:9px;color:#555;">-</div>
<div class="t" style="left:891.3px;top:4.69px;font-size:15.6px;color:#2c3338;letter-spacing:-0.17px;">31. 12. 2012</div>
<div class="t" style="left:7.0px;top:40.22px;font-size:9.17px;font-weight:bold;color:#444;">Pokročilé segmenty</div>
<div class="t" style="left:118.8px;top:40.35px;font-size:8.8px;font-weight:bold;color:#444;">E-mail</div>
<div class="t" style="left:158.9px;top:40.32px;font-size:8.9px;font-weight:bold;color:#444;">Exportovat</div>
<div class="t" style="left:228.3px;top:40.25px;font-size:9.08px;font-weight:bold;color:#444;">Přidat na panel</div>
<div class="t" style="left:306.9px;top:40.09px;font-size:9.25px;font-weight:bold;color:#444;">Zkratka</div>
<div class="t" style="left:342.4px;top:38.47px;font-size:7px;color:#e28e52;">BETA</div>
<div class="t" style="left:26.3px;top:71.76px;font-size:9.35px;color:#666;">návštěvy – podíl v %: 100,00 %</div>
<div class="t" style="left:11.6px;top:99.99px;font-size:11.0px;font-weight:bold;color:#333;">Přehled</div>
<div class="t" style="left:18.8px;top:133.00px;font-size:8.65px;color:#555;">Návštěvy</div>
<div class="t" style="left:78.2px;top:131.74px;font-size:9.4px;font-weight:bold;color:#333;">vs.</div>
<div class="t" style="left:100.6px;top:133.02px;font-size:8.6px;color:#2a6fa8;">Vybrat metriku</div>
<div class="t" style="left:27.3px;top:165.20px;font-size:9.8px;color:#222;">Návštěvy</div>
<div class="t" style="left:15.2px;top:182.42px;font-size:8.6px;color:#555;">400</div>
<div class="t" style="left:15.2px;top:236.82px;font-size:8.6px;color:#555;">200</div>
<div class="t" style="left:233.3px;top:293.39px;font-size:8.7px;color:#444;">duben 2012</div>
<div class="t" style="left:469.7px;top:293.39px;font-size:8.7px;color:#444;">červenec 2012</div>
<div class="t" style="left:724.9px;top:293.52px;font-size:8.3px;color:#444;">říjen 2012</div>
<div class="t" style="left:10.9px;top:333.88px;font-size:14.5px;font-weight:bold;color:#000;">Počet návštěvníků tohoto webu: 36 687</div>
<div class="t" style="left:610.7px;top:440.85px;font-size:14.0px;font-weight:bold;color:#000;">85,21 %</div>
<div class="t" style="left:667.2px;top:441.72px;font-size:11.5px;font-weight:bold;color:#000;">New Visitor</div>
<div class="t" style="left:612.8px;top:457.19px;font-size:8.68px;color:#333;">36 580 Návštěvy</div>
<div class="t" style="left:610.7px;top:480.85px;font-size:14.0px;font-weight:bold;color:#000;">14,79 %</div>
<div class="t" style="left:667.2px;top:481.66px;font-size:11.65px;font-weight:bold;color:#000;">Returning Visitor</div>
<div class="t" style="left:612.8px;top:497.19px;font-size:8.68px;color:#333;">6 350 Návštěvy</div>

<div class="t" style="left:76.2px;top:372.64px;font-size:13.15px;font-weight:bold;color:#000;">Návštěvy:</div>
<div class="t" style="left:140.8px;top:371.93px;font-size:15.5px;font-weight:bold;color:#000;">42 930</div>
<div class="t" style="left:76.2px;top:402.71px;font-size:12.95px;font-weight:bold;color:#000;">Unikátní návštěvníci:</div>
<div class="t" style="left:208.3px;top:402.07px;font-size:15.1px;font-weight:bold;color:#000;">36 687</div>
<div class="t" style="left:76.2px;top:432.68px;font-size:13.05px;font-weight:bold;color:#000;">Zobrazení stránek:</div>
<div class="t" style="left:195.3px;top:432.01px;font-size:15.27px;font-weight:bold;color:#000;">68 514</div>
<div class="t" style="left:76.2px;top:462.66px;font-size:13.1px;font-weight:bold;color:#000;">Počet stránek na návštěvu:</div>
<div class="t" style="left:248.7px;top:462.00px;font-size:15.3px;font-weight:bold;color:#000;">1,60</div>
<div class="t" style="left:76.2px;top:492.70px;font-size:13.0px;font-weight:bold;color:#000;">Prům. doba trvání návštěvy:</div>
<div class="t" style="left:254.3px;top:491.89px;font-size:15.6px;font-weight:bold;color:#000;">00:01:27</div>
<div class="t" style="left:76.2px;top:522.79px;font-size:12.72px;font-weight:bold;color:#000;">Míra opuštění:</div>
<div class="t" style="left:166.8px;top:522.05px;font-size:15.15px;font-weight:bold;color:#000;">77,01 %</div>
<div class="t" style="left:76.2px;top:552.76px;font-size:12.82px;font-weight:bold;color:#000;">Procento nových návštěv:</div>
<div class="t" style="left:239.6px;top:551.98px;font-size:15.35px;font-weight:bold;color:#000;">85,17 %</div>

<div class="abs lsq" style="top:448.100px;background:#058dc7"></div>
<div class="abs lsq" style="top:488.100px;background:#50b432"></div>
</body></html>
